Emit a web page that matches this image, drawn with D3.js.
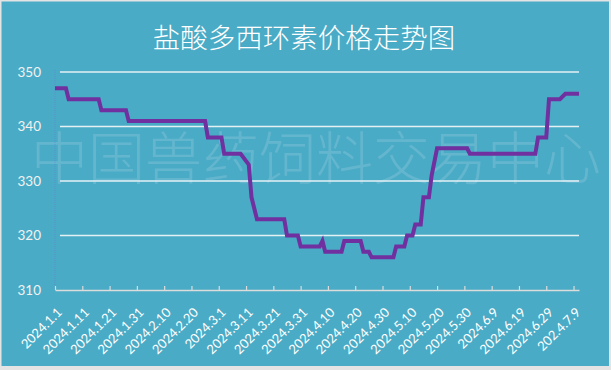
<!DOCTYPE html>
<html>
<head>
<meta charset="utf-8">
<script src="https://cdn.jsdelivr.net/npm/d3@7"></script>
<style>
  html, body { margin: 0; padding: 0; background: #e4e4e4; }
  svg { display: block; }
</style>
</head>
<body>
<svg id="chart" width="611" height="370"></svg>
<script>
// ---- data ----
const title = "盐酸多西环素价格走势图";
const watermark = "中国兽药饲料交易中心";
const dates = [
  "2024-01-01","2024-01-05","2024-01-06","2024-01-17","2024-01-18","2024-01-27","2024-01-28",
  "2024-02-25","2024-02-26","2024-03-02","2024-03-03","2024-03-09","2024-03-12","2024-03-13",
  "2024-03-15","2024-03-25","2024-03-26","2024-03-30","2024-03-31","2024-04-07","2024-04-08",
  "2024-04-09","2024-04-15","2024-04-16","2024-04-22","2024-04-23","2024-04-25","2024-04-26",
  "2024-05-04","2024-05-05","2024-05-08","2024-05-09","2024-05-11","2024-05-12","2024-05-14",
  "2024-05-15","2024-05-17","2024-05-18","2024-05-20","2024-05-31","2024-06-01","2024-06-25",
  "2024-06-26","2024-06-29","2024-06-30","2024-07-04","2024-07-06","2024-07-11"
];
const prices = [
  347,347,345,345,343,343,341,
  341,338,338,335,335,333,327,
  323,323,320,320,318,318,319,
  317,317,319,319,317,317,316,
  316,318,318,320,320,322,322,
  327,327,331,336,336,335,335,
  338,338,345,345,346,346
];
const tickDates = [
  "2024-01-01","2024-01-11","2024-01-21","2024-01-31","2024-02-10","2024-02-20","2024-03-01",
  "2024-03-11","2024-03-21","2024-03-31","2024-04-10","2024-04-20","2024-04-30","2024-05-10",
  "2024-05-20","2024-05-30","2024-06-09","2024-06-19","2024-06-29","2024-07-09"
];
const tickLabels = [
  "2024.1.1","2024.1.11","2024.1.21","2024.1.31","2024.2.10","2024.2.20","2024.3.1",
  "2024.3.11","2024.3.21","2024.3.31","2024.4.10","2024.4.20","2024.4.30","2024.5.10",
  "2024.5.20","2024.5.30","2024.6.9","2024.6.19","2024.6.29","202.4.7.9"
];
const yTicks = [310, 320, 330, 340, 350];

// ---- drawing ----
const parse = d3.utcParse("%Y-%m-%d");
const svg = d3.select("#chart");

svg.append("rect").attr("x", 1.5).attr("y", 1.5).attr("width", 607.5).attr("height", 364.5)
  .attr("fill", "#4aabc6");

const x = d3.scaleUtc()
  .domain([parse(dates[0]), parse(dates[dates.length - 1])])
  .range([55, 579]);
const y = d3.scaleLinear().domain([310, 350]).range([290, 72]);

// watermark
svg.append("text")
  .attr("x", 316).attr("y", 179)
  .attr("text-anchor", "middle")
  .attr("font-family", "'Noto Sans CJK SC', sans-serif")
  .attr("font-weight", 300)
  .attr("font-size", 57)
  .attr("fill", "rgba(255,255,255,0.14)")
  .text(watermark);

// title
svg.append("text")
  .attr("x", 304).attr("y", 48)
  .attr("text-anchor", "middle")
  .attr("font-family", "'Noto Sans CJK SC', sans-serif")
  .attr("font-weight", 300)
  .attr("font-size", 27.5)
  .attr("fill", "#ffffff")
  .text(title);

// gridlines
svg.append("g").selectAll("line")
  .data(yTicks.filter(v => v > 310))
  .join("line")
  .attr("x1", 60).attr("x2", 579)
  .attr("y1", d => y(d)).attr("y2", d => y(d))
  .attr("stroke", "#e3f1f5").attr("stroke-width", 1.5);

// faint y axis line
svg.append("line")
  .attr("x1", 55).attr("x2", 55).attr("y1", 70).attr("y2", 290)
  .attr("stroke", "rgba(110,120,220,0.55)").attr("stroke-width", 1)
  .attr("stroke-dasharray", "1,1");

// y axis labels
const yAxis = d3.axisLeft(y).tickValues(yTicks).tickSize(0).tickPadding(14);
const gy = svg.append("g").attr("transform", "translate(55,0)").call(yAxis);
gy.select(".domain").remove();
gy.selectAll("text")
  .attr("font-family", "Lato, 'Open Sans', sans-serif")
  .attr("font-size", 13.5)
  .attr("fill", "#f2f2f2");

// x axis
const xAxis = d3.axisBottom(x)
  .tickValues(tickDates.map(parse))
  .tickFormat((d, i) => tickLabels[i])
  .tickSizeInner(-4).tickSizeOuter(0);
const gx = svg.append("g").attr("transform", "translate(0,290)").call(xAxis);
gx.select(".domain").attr("stroke", "#dcdcdc").attr("stroke-width", 1.5);
gx.selectAll(".tick line").attr("stroke", "#dcdcdc").attr("stroke-width", 1.2);
gx.selectAll(".tick text")
  .attr("font-family", "Lato, 'Open Sans', sans-serif")
  .attr("font-size", 13)
  .attr("fill", "#ffffff")
  .attr("text-anchor", "end")
  .attr("x", 0).attr("y", 0).attr("dy", "0.35em")
  .attr("transform", "translate(4,20) rotate(-45)");

// price line
const line = d3.line()
  .x((d, i) => x(parse(dates[i])))
  .y(d => y(d));
svg.append("path")
  .datum(prices)
  .attr("d", line)
  .attr("fill", "none")
  .attr("stroke", "#7030a0")
  .attr("stroke-width", 4)
  .attr("stroke-linejoin", "miter");
</script>
</body>
</html>
